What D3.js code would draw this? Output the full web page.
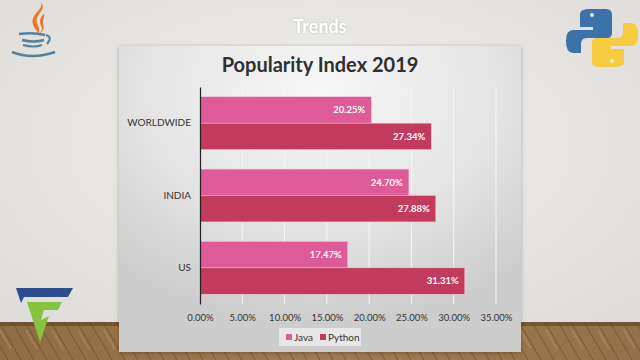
<!DOCTYPE html>
<html><head><meta charset="utf-8">
<script src="https://cdn.jsdelivr.net/npm/d3@7"></script>
<style>html,body{margin:0;padding:0;background:#e7e6e3;}svg{display:block;}</style>
</head><body>
<script>
const categories = ["WORLDWIDE", "INDIA", "US"];
const seriesNames = ["Java", "Python"];
const javaValues = [20.25, 24.70, 17.47];
const pythonValues = [27.34, 27.88, 31.31];
const tickValues = [0, 5, 10, 15, 20, 25, 30, 35];
const colors = ["#de5b98", "#c23a5c"];

const W = 640, H = 360;
const svg = d3.select("body").append("svg").attr("width", W).attr("height", H);
const defs = svg.append("defs");

// slide background
const bgGrad = defs.append("radialGradient").attr("id","bg").attr("cx","50%").attr("cy","40%").attr("r","70%");
bgGrad.append("stop").attr("offset","0%").attr("stop-color","#efeeeb");
bgGrad.append("stop").attr("offset","100%").attr("stop-color","#dedcd8");
svg.append("rect").attr("width",W).attr("height",H).attr("fill","url(#bg)");

// wood floor (diagonal planks)
const floor = svg.append("g");
const fg = defs.append("linearGradient").attr("id","wood").attr("x1","0").attr("x2","1").attr("y1","0").attr("y2","0");
fg.append("stop").attr("offset","0%").attr("stop-color","#8f6c44");
fg.append("stop").attr("offset","50%").attr("stop-color","#a07c50");
fg.append("stop").attr("offset","100%").attr("stop-color","#94714a");
floor.append("rect").attr("x",0).attr("y",322).attr("width",W).attr("height",38).attr("fill","url(#wood)");
floor.append("rect").attr("x",0).attr("y",322).attr("width",W).attr("height",4).attr("fill","#5e4226").attr("opacity",0.6);
for(let x = -40; x < W + 40; x += 13){
  floor.append("line").attr("x1",x).attr("x2",x+22).attr("y1",322).attr("y2",360)
    .attr("stroke","#5e4226").attr("stroke-width",0.8).attr("opacity",0.7);
}
for(let x = -30; x < W + 40; x += 26){
  floor.append("line").attr("x1",x+4).attr("x2",x+15).attr("y1",330).attr("y2",349)
    .attr("stroke","#c4a070").attr("stroke-width",2).attr("opacity",0.35);
}

// title "Trends"
svg.append("text").attr("x",320).attr("y",33).attr("text-anchor","middle")
  .attr("font-family","Lato, sans-serif").attr("font-weight","bold").attr("font-size",18)
  .attr("fill","#ffffff").style("filter","drop-shadow(0px 0px 1px #c0c0c0)").text("Trends");

// Java logo (top-left)
const jl = svg.append("g").attr("fill","none");
jl.append("path").attr("d","M41,2 C44,10 30,14 33,24 C34,29 38,31 38,34 C42,28 35,24 37,18 C39,12 46,9 41,2 Z").attr("fill","#e8762d");
jl.append("path").attr("d","M44,14 C38,19 40,24 42,28 C42,31 40,33 39,34 C46,30 43,25 43,22 C43,19 45,16 44,14 Z").attr("fill","#e8762d");
jl.append("path").attr("d","M19,34 Q33,32 45,35").attr("stroke","#5382a1").attr("stroke-width",2.4);
jl.append("path").attr("d","M22,40 Q34,43 44,40").attr("stroke","#5382a1").attr("stroke-width",2.4);
jl.append("path").attr("d","M23,45 Q34,48 42,45").attr("stroke","#5382a1").attr("stroke-width",2.2);
jl.append("path").attr("d","M46,35 Q53,37 47,44").attr("stroke","#5382a1").attr("stroke-width",2);
jl.append("path").attr("d","M12,52 Q32,60 55,52").attr("stroke","#5382a1").attr("stroke-width",2.6);

// Python logo (top-right)
const pl = svg.append("g");
pl.append("path").attr("d","M590,9 h16 q6,0 6,6 v18 q0,5 -5,5 h-20 q-6,0 -6,6 v9 h-8 q-7,0 -7,-12 q0,-11 7,-11 h20 v-3 h-13 v-13 q0,-5 10,-5 Z").attr("fill","#3b73a8");
pl.append("circle").attr("cx",592).attr("cy",15).attr("r",2).attr("fill","#e7e6e3");
pl.append("path").attr("d","M614,67 h-16 q-6,0 -6,-6 v-18 q0,-5 5,-5 h20 q6,0 6,-6 v-9 h8 q7,0 7,12 q0,11 -7,11 h-20 v3 h13 v13 q0,5 -10,5 Z").attr("fill","#f5cc3e");
pl.append("circle").attr("cx",612).attr("cy",61).attr("r",2).attr("fill","#e7e6e3");

// company logo bottom-left
const cl = svg.append("g");
cl.append("path").attr("d","M16,288 L73,288 L68,297 L24,297 L21,303 Z").attr("fill","#2c4d8e");
cl.append("path").attr("d","M27,302 L62,302 L58,310 L44,310 L41,320 L49,316 L40,342 Z").attr("fill","#86c440");

// chart panel
const pg = defs.append("radialGradient").attr("id","panel").attr("cx","50%").attr("cy","15%").attr("r","75%");
pg.append("stop").attr("offset","0%").attr("stop-color","#f7f7f7");
pg.append("stop").attr("offset","60%").attr("stop-color","#e3e3e3");
pg.append("stop").attr("offset","100%").attr("stop-color","#cdcdcd");
svg.append("rect").attr("x",119).attr("y",46).attr("width",402).attr("height",306)
  .attr("fill","url(#panel)").style("filter","drop-shadow(0px 1px 2px rgba(0,0,0,0.25))");

svg.append("text").attr("x",320).attr("y",72).attr("text-anchor","middle")
  .attr("font-family","Lato, sans-serif").attr("font-weight","bold").attr("font-size",20)
  .attr("fill","#303030").text("Popularity Index 2019");

const x = d3.scaleLinear().domain([0,35]).range([200,496]);
const y = d3.scaleBand().domain(categories).range([87,304]).paddingInner(0.27).paddingOuter(0.135);
const ySub = d3.scaleBand().domain(seriesNames).range([0,y.bandwidth()]);

// grid
svg.append("g").selectAll("line").data(tickValues.slice(1)).join("line")
  .attr("x1",d=>x(d)).attr("x2",d=>x(d)).attr("y1",87).attr("y2",304)
  .attr("stroke","#f6f6f6").attr("stroke-width",1);

const rows = categories.map((c,i)=>({cat:c, vals:[javaValues[i], pythonValues[i]]}));
const g = svg.append("g");
rows.forEach(r=>{
  r.vals.forEach((v,j)=>{
    g.append("rect").attr("x",x(0)).attr("y",y(r.cat)+ySub(seriesNames[j]))
      .attr("width",x(v)-x(0)).attr("height",ySub.bandwidth())
      .attr("fill",colors[j]).attr("stroke","#f0c8d8").attr("stroke-width",0.5);
    g.append("text").attr("x",x(v)-6).attr("y",y(r.cat)+ySub(seriesNames[j])+ySub.bandwidth()/2)
      .attr("dy","0.35em").attr("text-anchor","end")
      .attr("font-family","Lato, sans-serif").attr("font-weight","bold").attr("font-size",9.5)
      .attr("fill","#ffffff").text(v.toFixed(2)+"%");
  });
});

// y axis
const yAxis = svg.append("g").attr("transform",`translate(${x(0)},0)`)
  .call(d3.axisLeft(y).tickSize(0).tickPadding(9));
yAxis.select(".domain").attr("stroke","#222").attr("stroke-width",1.2);
yAxis.selectAll("text").attr("font-family","Lato, sans-serif").attr("font-size",10).attr("fill","#333");

// x axis
const xAxis = svg.append("g").attr("transform","translate(0,304)")
  .call(d3.axisBottom(x).tickValues(tickValues).tickSize(0).tickPadding(10).tickFormat(d=>d.toFixed(2)+"%"));
xAxis.select(".domain").remove();
xAxis.selectAll("text").attr("font-family","Lato, sans-serif").attr("font-size",9.5).attr("fill","#333");

// legend
const lg = svg.append("g");
lg.append("rect").attr("x",279).attr("y",328).attr("width",82).attr("height",18).attr("fill","#ededed").attr("opacity",0.8);
const legX = [286, 320];
seriesNames.forEach((s,i)=>{
  lg.append("rect").attr("x",legX[i]).attr("y",334).attr("width",6).attr("height",6).attr("fill",colors[i]);
  lg.append("text").attr("x",legX[i]+8).attr("y",337).attr("dy","0.35em")
    .attr("font-family","Lato, sans-serif").attr("font-size",10).attr("fill","#333").text(s);
});
</script>
</body></html>
